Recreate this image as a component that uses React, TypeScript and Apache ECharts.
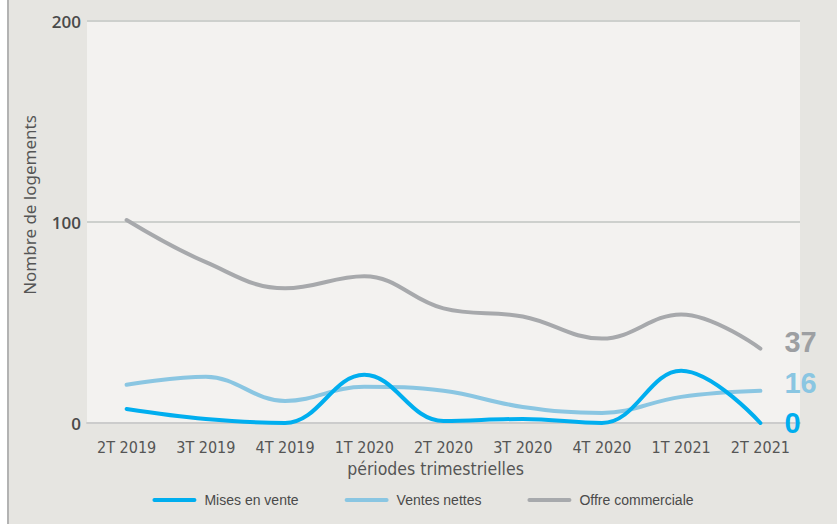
import React, { useEffect, useRef } from "react";
import * as echarts from "echarts";

const categories = ["2T 2019", "3T 2019", "4T 2019", "1T 2020", "2T 2020", "3T 2020", "4T 2020", "1T 2021", "2T 2021"];
const misesEnVente = [7, 2, 0, 24, 1, 2, 0, 26, 0];
const ventesNettes = [19, 23, 11, 18, 16, 8, 5, 13, 16];
const offreCommerciale = [101, 80, 67, 73, 57, 53, 42, 54, 37];
const yTicks = [0, 100, 200];

const COLORS = { mises: "#00aeef", ventes: "#8ac6e2", offre: "#a7a9ac" };
const NARROW = "'Liberation Sans Narrow', 'DejaVu Sans Condensed', Roboto, sans-serif";

const capsule = "path://M2,0 H42 A2,2 0 0 1 42,4 H2 A2,2 0 0 1 2,0 Z";

export default function App() {
  const ref = useRef<HTMLDivElement>(null);
  useEffect(() => {
    if (!ref.current) return;
    const chart = echarts.init(ref.current, null, { renderer: "svg" });
    const mkSeries = (name: string, data: number[], color: string, z: number, offY: number, lblColor: string) => ({
      name,
      type: "line",
      data,
      smooth: 0.4,
      showSymbol: false,
      symbol: "none",
      z,
      lineStyle: { color, width: 4, cap: "round" },
      itemStyle: { color },
      endLabel: {
        show: true,
        formatter: (p: any) => String(p.value),
        color: lblColor,
        fontFamily: "Liberation Sans",
        fontWeight: "bold",
        fontSize: 29,
        distance: 24,
        offset: [0, offY],
      },
    });
    chart.setOption({
      animation: false,
      backgroundColor: "#e6e5e1",
      grid: {
        left: 78,
        right: 37,
        top: 21,
        bottom: 101,
        show: true,
        backgroundColor: "#f3f2f0",
        borderWidth: 0,
      },
      legend: {
        bottom: 12,
        left: "center",
        itemWidth: 44,
        itemHeight: 5,
        itemGap: 46,
        icon: capsule,
        textStyle: { color: "#4a4a4a", fontSize: 14, fontFamily: "Liberation Sans", padding: [0, 0, 0, 3] },
        data: [
          { name: "Mises en vente", itemStyle: { color: COLORS.mises } },
          { name: "Ventes nettes", itemStyle: { color: COLORS.ventes } },
          { name: "Offre commerciale", itemStyle: { color: COLORS.offre } },
        ],
      },
      xAxis: {
        type: "category",
        data: categories,
        boundaryGap: true,
        name: "périodes trimestrielles",
        nameLocation: "middle",
        nameGap: 34,
        nameTextStyle: { color: "#555", fontSize: 17.5, fontFamily: NARROW, padding: [0, 16, 0, 0] },
        axisLine: { lineStyle: { color: "#cccccc", width: 2 } },
        axisTick: { show: false },
        axisLabel: { color: "#555", fontSize: 16, fontFamily: NARROW, margin: 16, interval: 0, hideOverlap: false },
      },
      yAxis: {
        type: "value",
        min: yTicks[0],
        max: yTicks[yTicks.length - 1],
        interval: 100,
        name: "Nombre de logements",
        nameLocation: "middle",
        nameGap: 49,
        nameTextStyle: { color: "#555", fontSize: 17, fontFamily: "Noto Sans", padding: [0, 0, 0, 34] },
        axisLine: { show: false },
        axisTick: { show: false },
        axisLabel: { color: "#4a4a4a", fontSize: 17, fontWeight: 600, fontFamily: "Open Sans", margin: 6 },
        splitLine: { lineStyle: { color: "#cdd0cd", width: 2 } },
      },
      series: [
        mkSeries("Offre commerciale", offreCommerciale, COLORS.offre, 2, -7, "#9d9fa2"),
        mkSeries("Ventes nettes", ventesNettes, COLORS.ventes, 3, -8, COLORS.ventes),
        mkSeries("Mises en vente", misesEnVente, COLORS.mises, 4, 0, COLORS.mises),
      ],
    });
    return () => chart.dispose();
  }, []);
  return (
    <div style={{ position: "fixed", left: 0, top: 0, width: 837, height: 524, background: "#ffffff" }}>
      <div
        style={{
          position: "absolute",
          left: 7,
          top: 0,
          width: 828,
          height: 524,
          borderLeft: "2px solid #b3b3b3",
        }}
      >
        <div ref={ref} style={{ width: 828, height: 524 }} />
      </div>
    </div>
  );
}
